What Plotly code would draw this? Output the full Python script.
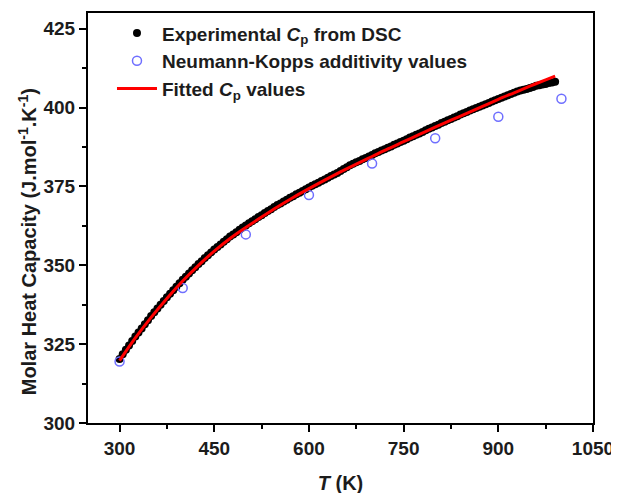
import plotly.graph_objects as go

# Experimental Cp from DSC (T in K, Cp in J/mol/K)
exp_T = list(range(300, 995, 5))
exp_cp = [
    320.3, 321.8, 323.2, 324.6, 326.0, 327.4, 328.7, 330.0, 331.3, 332.6,
    333.9, 335.1, 336.3, 337.5, 338.7, 339.9, 341.0, 342.1, 343.2, 344.3,
    345.4, 346.4, 347.4, 348.4, 349.4, 350.4, 351.3, 352.3, 353.2, 354.1,
    355.0, 355.8, 356.6, 357.5, 358.3, 359.1, 359.8, 360.5, 361.3, 362.0,
    362.6, 363.3, 364.0, 364.6, 365.3, 365.9, 366.6, 367.2, 367.8, 368.5,
    369.1, 369.6, 370.2, 370.8, 371.4, 371.9, 372.5, 373.0, 373.6, 374.1,
    374.7, 375.2, 375.7, 376.2, 376.7, 377.2, 377.8, 378.3, 378.8, 379.3,
    379.9, 380.5, 381.1, 381.7, 382.2, 382.7, 383.1, 383.6, 384.0, 384.5,
    385.0, 385.5, 385.9, 386.4, 386.8, 387.3, 387.7, 388.2, 388.6, 389.1,
    389.5, 390.0, 390.5, 390.9, 391.4, 391.8, 392.3, 392.8, 393.3, 393.7,
    394.2, 394.6, 395.1, 395.5, 396.0, 396.4, 396.9, 397.3, 397.8, 398.2,
    398.6, 399.1, 399.5, 399.9, 400.3, 400.7, 401.1, 401.5, 401.9, 402.3,
    402.7, 403.1, 403.5, 403.9, 404.3, 404.7, 405.1, 405.4, 405.7, 405.9,
    406.2, 406.5, 406.9, 407.1, 407.3, 407.5, 407.8, 408.0, 408.2,
]

# Neumann-Kopp additivity values
nk_T = [300, 400, 500, 600, 700, 800, 900, 1000]
nk_cp = [319.5, 342.8, 359.8, 372.3, 382.3, 390.3, 397.1, 402.8]

# Fitted Cp values
fit_T = [300, 325, 350, 375, 400, 425, 450, 475, 500, 525, 550, 575, 600, 625,
         650, 675, 700, 725, 750, 775, 800, 825, 850, 875, 900, 925, 950, 975, 990]
fit_cp = [319.8, 327.0, 333.5, 339.5, 345.0, 350.0, 354.5, 358.5, 362.0, 365.3,
          368.5, 371.5, 374.3, 377.0, 379.6, 382.1, 384.5, 386.9, 389.2, 391.5,
          393.8, 396.0, 398.2, 400.4, 402.6, 404.7, 406.8, 408.8, 410.0]

x_ticks = [300, 450, 600, 750, 900, 1050]
y_ticks = [300, 325, 350, 375, 400, 425]

FONT = "Liberation Sans, Arial, sans-serif"
TXT = "#1c1c1c"

fig = go.Figure()
fig.add_trace(go.Scatter(
    x=exp_T, y=exp_cp, mode="markers",
    name="Experimental <i>C</i><sub>p</sub> from DSC",
    marker=dict(color="black", size=8, line=dict(width=0)),
))
fig.add_trace(go.Scatter(
    x=nk_T, y=nk_cp, mode="markers",
    name="Neumann-Kopps additivity values",
    marker=dict(symbol="circle-open", color="#6f6fff", size=9, line=dict(width=1.5)),
))
fig.add_trace(go.Scatter(
    x=fit_T, y=fit_cp, mode="lines", line_shape="spline",
    name="Fitted <i>C</i><sub>p</sub> values",
    line=dict(color="#ff0000", width=3),
))

axis_common = dict(
    showline=True, linecolor="black", linewidth=2, mirror=True,
    ticks="outside", ticklen=7, tickwidth=2, tickcolor="black",
    showgrid=False, zeroline=False, automargin=False,
    tickfont=dict(family=FONT, size=19, color=TXT, weight="bold"),
)

fig.update_xaxes(
    range=[250, 1050], tickvals=x_ticks,
    minor=dict(ticks="outside", ticklen=4, tickwidth=2, tickcolor="black", dtick=75, tick0=0),
    title=dict(text="<i>T</i> (K)", font=dict(family=FONT, size=20, color=TXT, weight="bold"), standoff=18),
    **axis_common,
)
fig.update_yaxes(
    range=[300, 430], tickvals=y_ticks,
    minor=dict(ticks="outside", ticklen=4, tickwidth=2, tickcolor="black", dtick=12.5, tick0=0),
    **axis_common,
)

fig.add_annotation(
    text="Molar Heat Capacity (J.mol<sup>-1</sup>.K<sup>-1</sup>)",
    xref="paper", yref="paper", x=-0.121, y=0.443,
    xanchor="center", yanchor="middle", textangle=-90, showarrow=False,
    font=dict(family=FONT, size=20, color=TXT, weight="bold"),
)

fig.update_layout(
    width=619, height=493,
    margin=dict(l=80, r=34, t=5, b=78),
    plot_bgcolor="white", paper_bgcolor="white",
    font=dict(family=FONT, color=TXT),
    legend=dict(
        x=0.0475, y=0.997, xanchor="left", yanchor="top",
        bgcolor="rgba(0,0,0,0)", borderwidth=0,
        font=dict(family=FONT, size=19, color=TXT, weight="bold"),
        itemwidth=40, tracegroupgap=0,
    ),
    showlegend=True,
)

fig.write_html("out.html")
